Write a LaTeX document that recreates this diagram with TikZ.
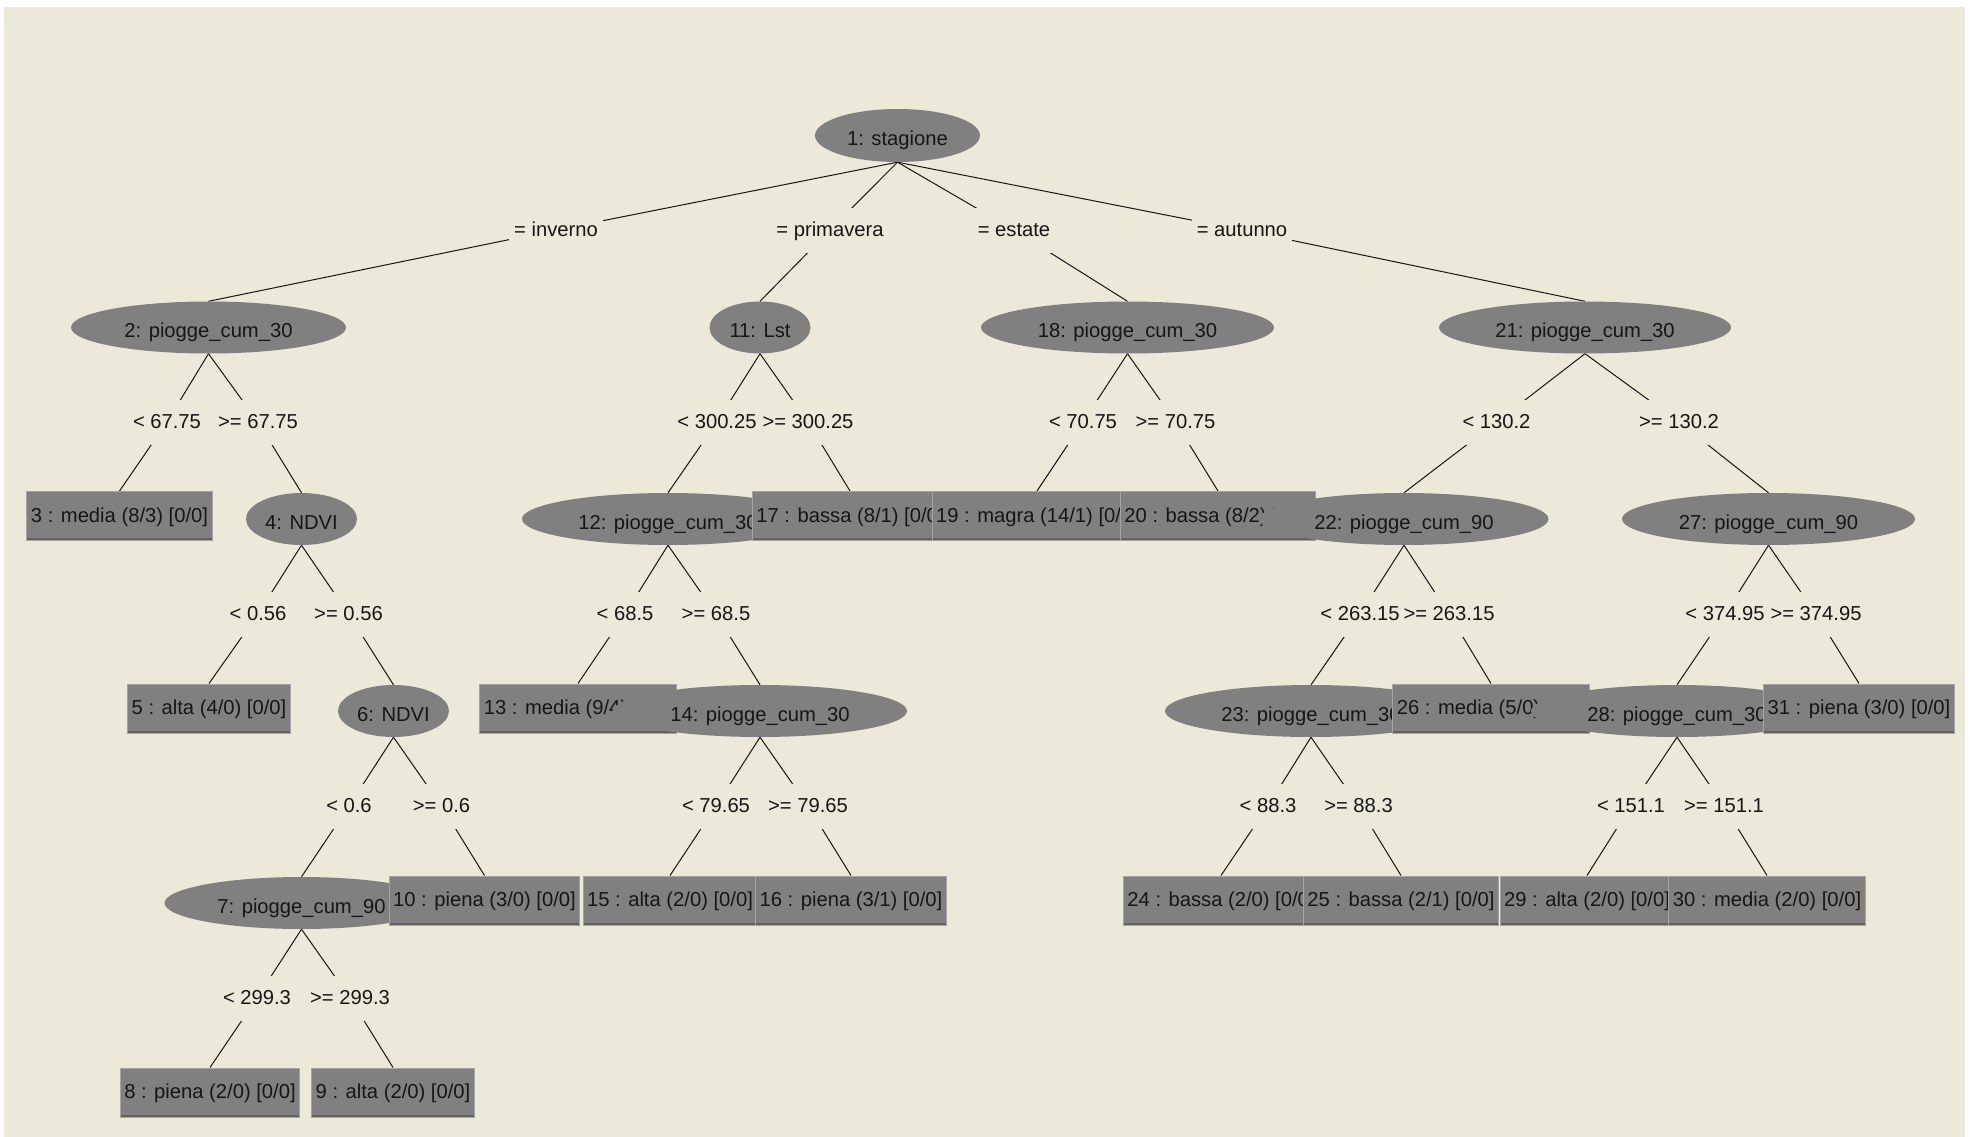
\documentclass[tikz,border=0pt]{standalone}
\usepackage{fontspec}
\setmainfont{Liberation Sans}
\usepackage{xcolor}
\usepackage{tikz}
\usetikzlibrary{shapes.geometric}

\definecolor{panel}{HTML}{ECE9D8}
\definecolor{nodegray}{HTML}{808080}
\definecolor{rimlight}{HTML}{A4A4A4}
\definecolor{rimdark}{HTML}{626262}
\definecolor{ink}{HTML}{161616}

\pgfdeclarelayer{backdrop}
\pgfdeclarelayer{wires}
\pgfsetlayers{backdrop,wires,main}

\tikzset{
  split/.style={ellipse, fill=nodegray, inner sep=0pt, minimum height=52pt,
    text height=20pt, text depth=0pt, text=ink},
  leaf/.style={rectangle, fill=nodegray, draw=rimlight, line width=1pt,
    inner xsep=4pt, inner ysep=0pt, minimum height=49pt,
    text height=15pt, text depth=3pt, text=ink,
    path picture={\draw[rimdark, line width=5pt]
      (path picture bounding box.south west) -- (path picture bounding box.south east);}},
  cut/.style={fill=panel, inner xsep=5pt, inner ysep=12pt,
    text height=17pt, text depth=4pt, text=ink},
  wire/.style={draw=ink, line width=1pt}
}

\begin{document}
\begin{tikzpicture}[x=1pt, y=-1pt, font=\fontsize{20.2}{24}\selectfont]
  \useasboundingbox (0,0) rectangle (1970,1137);
  \begin{pgfonlayer}{backdrop}
    \fill[white] (0,0) rectangle (1970,1137);
    \fill[panel] (4,7) rectangle (1965,1137);
  \end{pgfonlayer}

  % Tree nodes, drawn in order (later ones cover earlier ones)
  \node[split, minimum width=165pt, minimum height=53pt] (n1) at (897.5,135.5) {1: stagione};
  \node[split, minimum width=275pt] (n2) at (208.5,327.5) {2: piogge\_cum\_30};
  \node[leaf] (n3) at (119.5,516) {3 : media (8/3) [0/0]};
  \node[split, minimum width=111pt] (n4) at (301.5,519) {4: NDVI};
  \node[leaf] (n5) at (209,708.5) {5 : alta (4/0) [0/0]};
  \node[split, minimum width=111pt] (n6) at (393.5,711) {6: NDVI};
  \node[split, minimum width=274pt] (n7) at (301.5,903) {7: piogge\_cum\_90};
  \node[leaf] (n8) at (210,1092.5) {8 : piena (2/0) [0/0]};
  \node[leaf] (n9) at (393,1092.5) {9 : alta (2/0) [0/0]};
  \node[leaf] (n10) at (484.5,900.5) {10 : piena (3/0) [0/0]};
  \node[split, minimum width=101pt] (n11) at (760,327.5) {11: Lst};
  \node[split, minimum width=292pt] (n12) at (668,519) {12: piogge\_cum\_30};
  \node[leaf] (n13) at (578,708.5) {13 : media (9/4) [0/0]};
  \node[split, minimum width=294pt] (n14) at (760,711) {14: piogge\_cum\_30};
  \node[leaf] (n15) at (670,900.5) {15 : alta (2/0) [0/0]};
  \node[leaf] (n16) at (851,900.5) {16 : piena (3/1) [0/0]};
  \node[leaf] (n17) at (850,516) {17 : bassa (8/1) [0/0]};
  \node[split, minimum width=293pt] (n18) at (1127.5,327.5) {18: piogge\_cum\_30};
  \node[leaf] (n19) at (1037,516) {19 : magra (14/1) [0/0]};
  \node[leaf] (n20) at (1218,516) {20 : bassa (8/2) [0/0]};
  \node[split, minimum width=292pt] (n21) at (1585,327.5) {21: piogge\_cum\_30};
  \node[split, minimum width=289pt] (n22) at (1404,519) {22: piogge\_cum\_90};
  \node[split, minimum width=292pt] (n23) at (1311,711) {23: piogge\_cum\_30};
  \node[leaf] (n24) at (1221,900.5) {24 : bassa (2/0) [0/0]};
  \node[leaf] (n25) at (1401,900.5) {25 : bassa (2/1) [0/0]};
  \node[leaf] (n26) at (1491,708.5) {26 : media (5/0) [0/0]};
  \node[split, minimum width=293pt] (n27) at (1768.5,519) {27: piogge\_cum\_90};
  \node[split, minimum width=292pt] (n28) at (1677,711) {28: piogge\_cum\_30};
  \node[leaf] (n29) at (1587,900.5) {29 : alta (2/0) [0/0]};
  \node[leaf] (n30) at (1767,900.5) {30 : media (2/0) [0/0]};
  \node[leaf] (n31) at (1859,708.5) {31 : piena (3/0) [0/0]};

  % Split conditions, named after the child they lead to
  \foreach \n/\x/\y/\t in {2/556/230/{= inverno}, 11/830/230/{= primavera},
      18/1014/230/{= estate}, 21/1242/230/{= autunno},
      3/167/422/{< 67.75}, 4/258/422/{>= 67.75}, 12/717/422/{< 300.25}, 17/808/422/{>= 300.25},
      19/1083/422/{< 70.75}, 20/1175.5/422/{>= 70.75}, 22/1496.5/422/{< 130.2}, 27/1679/422/{>= 130.2},
      5/258/614/{< 0.56}, 6/348.5/614/{>= 0.56}, 13/625/614/{< 68.5}, 14/716/614/{>= 68.5},
      23/1360/614/{< 263.15}, 26/1449/614/{>= 263.15}, 28/1725/614/{< 374.95}, 31/1816/614/{>= 374.95},
      7/349/806/{< 0.6}, 10/441.5/806/{>= 0.6}, 15/716/806/{< 79.65}, 16/808/806/{>= 79.65},
      24/1268/806/{< 88.3}, 25/1358.5/806/{>= 88.3}, 29/1631/806/{< 151.1}, 30/1724/806/{>= 151.1},
      8/257/998/{< 299.3}, 9/350/998/{>= 299.3}}
    \node[cut] (l\n) at (\x,\y) {\t};

  % Edges: parent -> condition -> child
  \begin{pgfonlayer}{wires}
    \foreach \p/\c in {1/2, 1/11, 1/18, 1/21, 2/3, 2/4, 4/5, 4/6, 6/7, 6/10, 7/8, 7/9,
        11/12, 11/17, 12/13, 12/14, 14/15, 14/16, 18/19, 18/20, 21/22, 21/27,
        22/23, 22/26, 23/24, 23/25, 27/28, 27/31, 28/29, 28/30}
      \draw[wire] (n\p.south) -- (l\c.center) -- (n\c.north);
  \end{pgfonlayer}
\end{tikzpicture}
\end{document}
